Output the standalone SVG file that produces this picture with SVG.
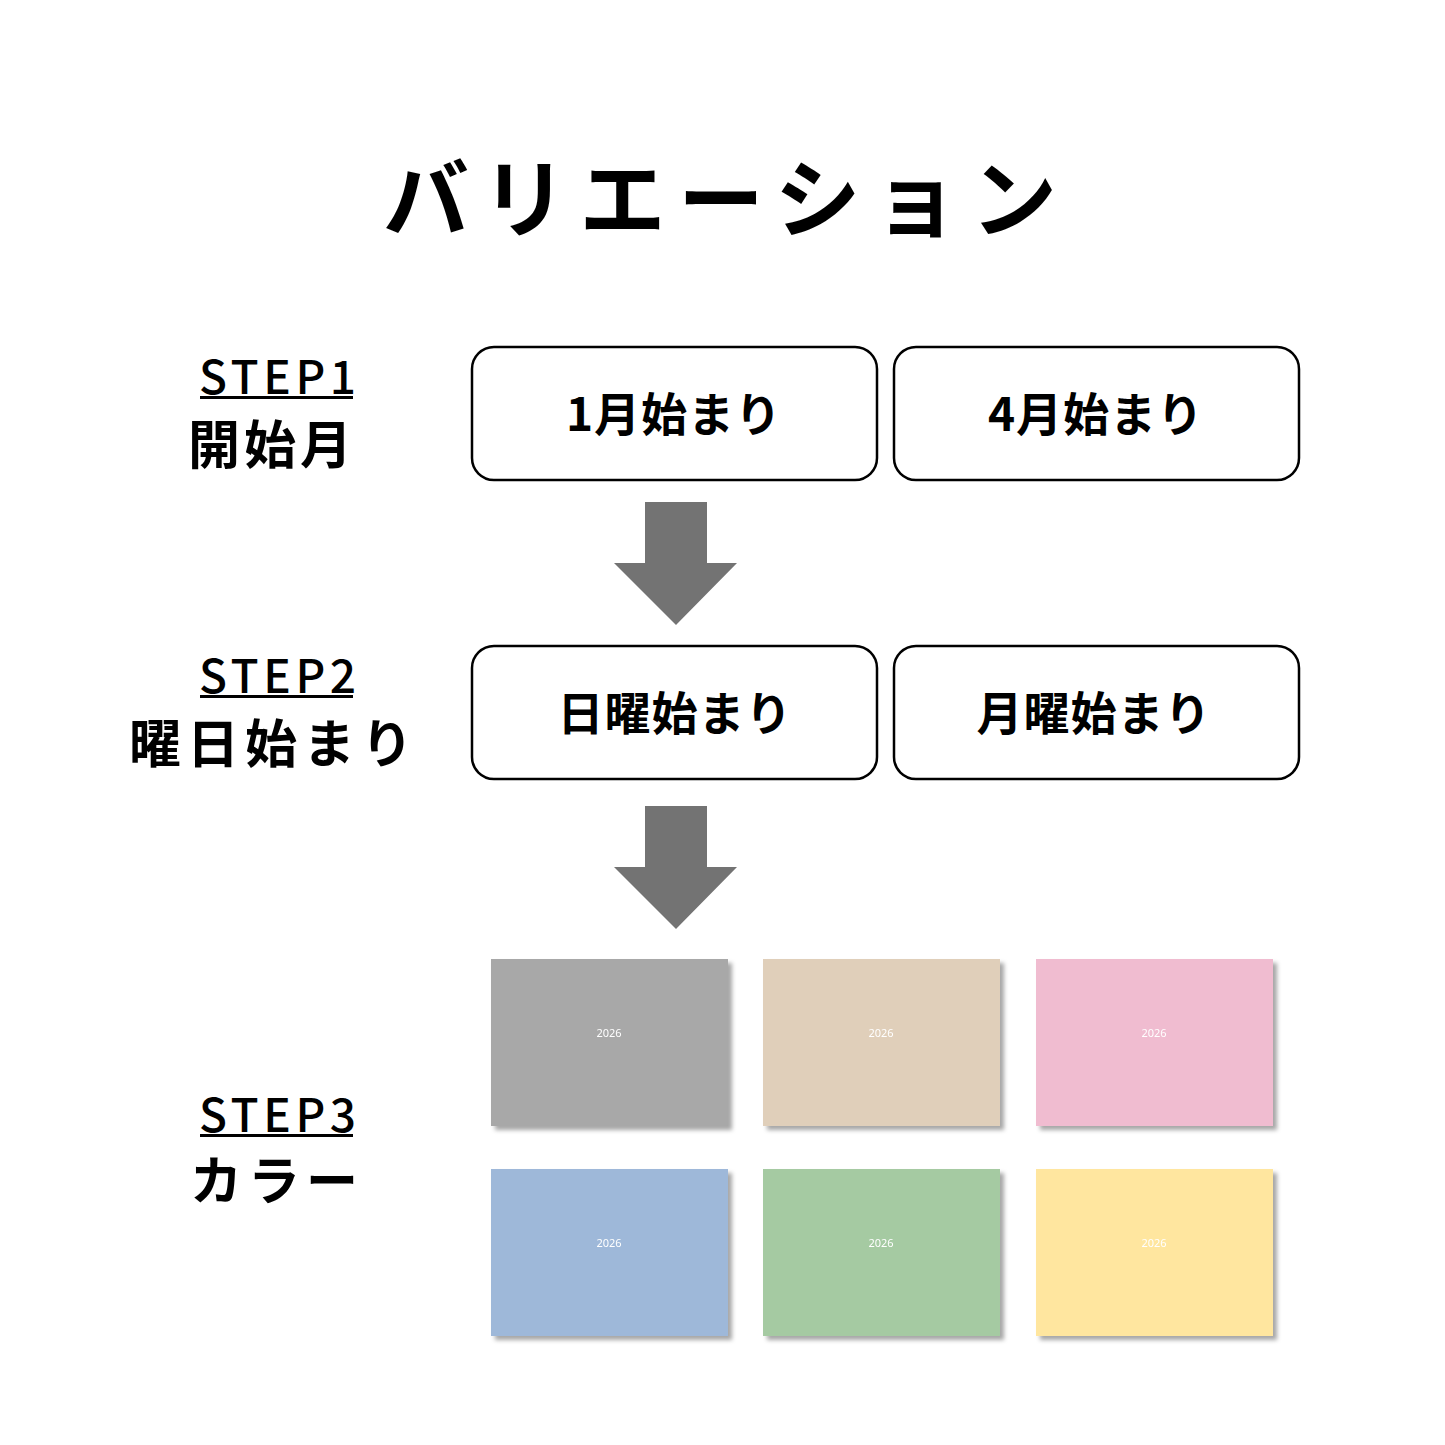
<svg xmlns="http://www.w3.org/2000/svg" width="1445" height="1445" viewBox="0 0 1445 1445">
<defs>
<style>
.jp{font-family:"Noto Sans CJK JP","Noto Sans",sans-serif;font-weight:700;fill:#000}
.step{font-family:"Noto Sans CJK JP","Noto Sans",sans-serif;font-weight:500;font-size:46px;letter-spacing:4.6px;fill:#000}
.lbl{font-size:52px;text-anchor:middle}
.box{fill:#fff;stroke:#000;stroke-width:2.5}
.bt{font-size:46px;text-anchor:middle;letter-spacing:1px}
.yr{font-family:"Noto Sans","DejaVu Sans",sans-serif;font-size:11px;fill:#fff;text-anchor:middle}
.arr{fill:#737373}
</style>
<filter id="sh" x="-10%" y="-10%" width="130%" height="130%">
<feDropShadow dx="4" dy="4" stdDeviation="2" flood-color="#000" flood-opacity="0.35"/>
</filter>
</defs>
<rect width="1445" height="1445" fill="#fff"/>
<text id="title" class="jp" x="383" y="231" font-size="86" letter-spacing="12.3">バリエーション</text>

<g id="step1">
<text class="step" x="199" y="394">STEP1</text>
<rect x="200" y="396" width="153" height="3"/>
<text class="jp lbl" x="272" y="464" letter-spacing="4">開始月</text>
</g>
<g id="step2">
<text class="step" x="199" y="693">STEP2</text>
<rect x="200" y="695" width="153" height="3"/>
<text class="jp lbl" x="274" y="763" letter-spacing="6">曜日始まり</text>
</g>
<g id="step3">
<text class="step" x="199" y="1132">STEP3</text>
<rect x="200" y="1134" width="153" height="3"/>
<text class="jp lbl" x="277" y="1200" letter-spacing="6">カラー</text>
</g>

<g id="box-jan"><rect class="box" x="472" y="347" width="405" height="133" rx="22"/><text class="jp bt" x="674" y="431">1月始まり</text></g>
<g id="box-apr"><rect class="box" x="894" y="347" width="405" height="133" rx="22"/><text class="jp bt" x="1096" y="431">4月始まり</text></g>
<g id="box-sun"><rect class="box" x="472" y="646" width="405" height="133" rx="22"/><text class="jp bt" x="675" y="730">日曜始まり</text></g>
<g id="box-mon"><rect class="box" x="894" y="646" width="405" height="133" rx="22"/><text class="jp bt" x="1094" y="730">月曜始まり</text></g>

<g id="connectors">
<polygon class="arr" points="645,502 707,502 707,563 737,563 676,625 614,563 645,563"/>
<polygon class="arr" points="645,806 707,806 707,867 737,867 676,929 614,867 645,867"/>
</g>

<g id="cards" filter="url(#sh)">
<g id="card-gray"><rect x="491" y="959" width="237" height="167" fill="#A8A8A8"/><text class="yr" x="609" y="1037">2026</text></g>
<g id="card-beige"><rect x="763" y="959" width="237" height="167" fill="#E0CFBA"/><text class="yr" x="881" y="1037">2026</text></g>
<g id="card-pink"><rect x="1036" y="959" width="237" height="167" fill="#F0BCD0"/><text class="yr" x="1154" y="1037">2026</text></g>
<g id="card-blue"><rect x="491" y="1169" width="237" height="167" fill="#9EB8D9"/><text class="yr" x="609" y="1247">2026</text></g>
<g id="card-green"><rect x="763" y="1169" width="237" height="167" fill="#A5CAA2"/><text class="yr" x="881" y="1247">2026</text></g>
<g id="card-yellow"><rect x="1036" y="1169" width="237" height="167" fill="#FFE69F"/><text class="yr" x="1154" y="1247">2026</text></g>
</g>
</svg>
